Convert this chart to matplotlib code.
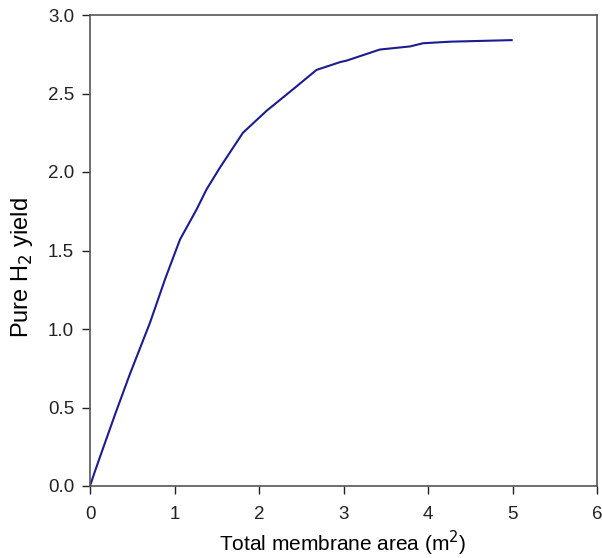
import matplotlib
matplotlib.use("Agg")
import matplotlib.pyplot as plt

area = [0.0, 0.05, 0.118, 0.296, 0.47, 0.71, 0.89, 1.065, 1.26, 1.38, 1.54, 1.81, 2.09,
        2.25, 2.41, 2.68, 2.96, 3.04, 3.43, 3.79, 3.94, 4.26, 4.99]
yield_h2 = [0.0, 0.08, 0.185, 0.455, 0.71, 1.04, 1.32, 1.57, 1.76, 1.89, 2.03, 2.25, 2.39,
            2.46, 2.53, 2.65, 2.70, 2.71, 2.78, 2.80, 2.82, 2.83, 2.84]
xticks = [0, 1, 2, 3, 4, 5, 6]
yticks = [0.0, 0.5, 1.0, 1.5, 2.0, 2.5, 3.0]

plt.rcParams['font.family'] = ['Liberation Sans', 'DejaVu Sans']
fig = plt.figure(figsize=(6.02, 5.58), dpi=100)
ax = fig.add_axes([90/602, 1-486/558, (597-90)/602, (486-15)/558])
ax.plot(area, yield_h2, color='#1c1c90', lw=1.5)
ax.set_xlim(0, 6)
ax.set_ylim(0, 3)
ax.set_xticks(xticks)
ax.set_xticklabels([str(t) for t in xticks])
ax.set_yticks(yticks)
ax.set_yticklabels([f"{t:.1f}" for t in yticks])
ax.tick_params(direction='out', length=6, width=1, labelsize=13.5, colors='#222222')
ax.tick_params(axis='x', pad=8.5)
ax.tick_params(axis='y', pad=5.5)
for s in ax.spines.values():
    s.set_color('#555555')
    s.set_linewidth(1.2)
ax.set_xlabel('Total membrane area (m$^2$)', fontsize=15)
ax.set_ylabel('Pure H$_2$ yield', fontsize=17)
ax.xaxis.set_label_coords(0.499, -0.121)
ax.yaxis.set_label_coords(-0.134, 0.463)
ax.xaxis.label.set_va('center')
ax.yaxis.label.set_va('center')
fig.savefig('out.png', dpi=100)
